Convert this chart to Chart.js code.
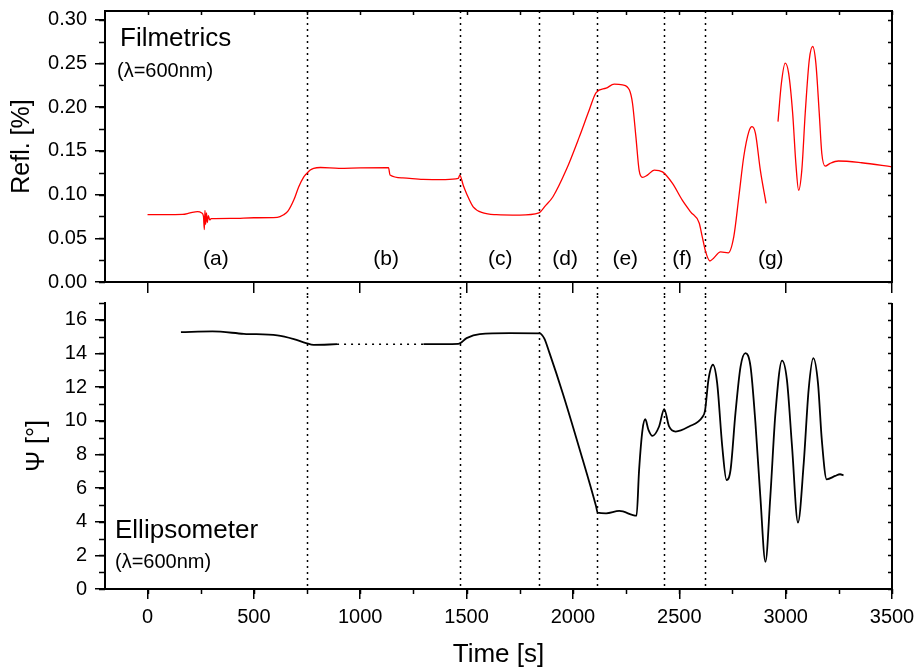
<!DOCTYPE html>
<html>
<head>
<meta charset="utf-8">
<script src="https://cdn.jsdelivr.net/npm/chart.js@4"></script>
<style>
html, body { margin: 0; padding: 0; background: #fff; }
#wrap { position: relative; width: 916px; height: 669px; }
#top { position: absolute; left: 0; top: 0; }
#bottom { position: absolute; left: 0; top: 296px; }
</style>
</head>
<body>
<div id="wrap">
<canvas id="top" width="916" height="296"></canvas>
<canvas id="bottom" width="916" height="373"></canvas>
</div>
<script>
// Filmetrics reflectance (null = gap in the record)
let reflTime = [0, 80, 165, 200, 235, 255, 263, 267, 270, 273, 277, 281, 286, 292, 300, 400, 500, 610, 640, 660,
    688, 711, 734, 746, 765, 781, 813, 900, 1000, 1133, 1140, 1200, 1295, 1400, 1461, 1468, 1485, 1500, 1531, 1578,
    1640, 1750, 1840, 1870, 1906, 1968, 2030, 2077, 2109, 2156, 2194, 2233, 2265, 2280, 2296, 2311, 2327, 2350, 2382, 2421,
    2468, 2514, 2554, 2593, 2608, 2624, 2644, 2660, 2694, 2730, 2756, 2780, 2803, 2827, 2842, 2858, 2881, 2908, 2935,
    2964, 2980, 2998, 3014, 3033, 3048, 3061, 3076, 3092, 3111, 3127, 3142, 3158, 3170, 3186, 3209, 3248, 3357, 3500];
let reflValue = [0.077, 0.077, 0.0773, 0.079, 0.0805, 0.079, 0.075, 0.060, 0.082, 0.066, 0.079, 0.068, 0.076, 0.071, 0.0725, 0.0728, 0.0735, 0.074, 0.077, 0.081,
    0.094, 0.109, 0.120, 0.1235, 0.128, 0.130, 0.131, 0.130, 0.1305, 0.1307, 0.1223, 0.119, 0.1174, 0.1172, 0.1185, 0.1223, 0.110, 0.101, 0.086, 0.079,
    0.077, 0.0765, 0.079, 0.087, 0.0975, 0.128, 0.166, 0.197, 0.2167, 0.2217, 0.2263, 0.2255, 0.2198, 0.2045, 0.166, 0.128, 0.1197, 0.1223, 0.128, 0.126,
    0.1128, 0.0937, 0.080, 0.0677, 0.0516, 0.0344, 0.024, 0.027, 0.0344, 0.0333, 0.0516, 0.0975, 0.1433, 0.172, 0.1777, 0.170, 0.128, 0.0899, null,
    0.1834, 0.2274, 0.2504, 0.239, 0.193, 0.1357, 0.105, 0.128, 0.193, 0.254, 0.2694, 0.2504, 0.193, 0.147, 0.1326, 0.1357, 0.1384, 0.1364, 0.1318];

// Ellipsometer psi
let psiTime = [157, 305, 453, 610, 688, 745, 781, 891, 1100, 1297, 1461, 1500, 1562, 1703, 1843, 1865, 1890, 1952, 2030, 2109,
    2116, 2156, 2218, 2299, 2311, 2327, 2340, 2355, 2374, 2405, 2429, 2452, 2483, 2546, 2608, 2621, 2637, 2658, 2678, 2702,
    2722, 2741, 2764, 2788, 2811, 2835, 2858, 2881, 2905, 2928, 2952, 2983, 3006, 3030, 3058, 3085, 3108, 3130, 3152, 3170,
    3193, 3233, 3256, 3272];
let psiValue = [15.27, 15.31, 15.17, 15.07, 14.85, 14.62, 14.51, 14.55, null, 14.55, 14.57, 14.91, 15.15, 15.21, 15.2, 14.9, 14.02, 11.64, 8.37, 4.9,
    4.54, 4.5, 4.64, 4.36, 7.08, 9.46, 10.09, 9.46, 9.1, 9.66, 10.69, 9.66, 9.36, 9.66, 10.21, 10.6, 12.43, 13.33, 12.24, 8.47,
    6.48, 7.08, 10.45, 13.22, 14.02, 13.22, 9.86, 5.49, 1.62, 5.49, 10.45, 13.58, 12.43, 8.47, 3.95, 7.48, 11.84, 13.72, 12.24, 8.86,
    6.52, 6.72, 6.82, 6.76];

// dotted bridge over the missing ellipsometer data
let gapTime = [891, 1297];
let gapValue = [14.55, 14.55];

// stage boundaries and labels
let stages = [750, 1468, 1840, 2113, 2430, 2620];
let stageLabels = ["(a)", "(b)", "(c)", "(d)", "(e)", "(f)", "(g)"];
let stageLabelTime = [321, 1122, 1658, 1963, 2246, 2513, 2930];

let xTicks = [0, 500, 1000, 1500, 2000, 2500, 3000, 3500];

function toPoints(xs, ys) {
    return xs.map((x, i) => ({ x: x, y: ys[i] }));
}

Chart.defaults.font.family = '"Liberation Sans", Arial, sans-serif';
Chart.defaults.color = "#000";

let fontName = '"Liberation Sans", Arial, sans-serif';

// keep the plot areas exactly where the reference has them
function noPad(s) {
    s.paddingLeft = 0;
    s.paddingRight = 0;
    s.paddingTop = 0;
    s.paddingBottom = 0;
}

let decor = {
    id: "decor",
    beforeDatasetsDraw(chart, args, o) {
        let ctx = chart.ctx, a = chart.chartArea, xs = chart.scales.x;
        ctx.save();
        ctx.strokeStyle = "#000";
        ctx.lineWidth = 1.5;
        ctx.setLineDash([2, 4]);
        let y0 = o.upper ? a.top : 0;
        let y1 = o.upper ? chart.height : a.bottom;
        stages.forEach(t => {
            let px = Math.round(xs.getPixelForValue(t)) + 0.5;
            ctx.beginPath();
            ctx.moveTo(px, y0);
            ctx.lineTo(px, y1);
            ctx.stroke();
        });
        ctx.restore();
    },
    afterDraw(chart, args, o) {
        let ctx = chart.ctx, a = chart.chartArea, xs = chart.scales.x, ys = chart.scales.y;
        ctx.save();
        ctx.strokeStyle = "#000";
        ctx.lineWidth = 1.5;
        // minor ticks on y (outside left, inside right)
        for (let k = 0; k * o.yMinor <= ys.max + 1e-9; k++) {
            let py = Math.round(ys.getPixelForValue(k * o.yMinor)) + 0.5;
            ctx.beginPath();
            ctx.moveTo(a.left - 6, py);
            ctx.lineTo(a.left, py);
            ctx.moveTo(a.right, py);
            ctx.lineTo(a.right - 4, py);
            ctx.stroke();
        }
        // x ticks every 250
        for (let t = 0; t <= xs.max; t += 250) {
            let px = Math.round(xs.getPixelForValue(t)) + 0.5;
            ctx.beginPath();
            if (o.upper) {
                ctx.moveTo(px, a.top);
                ctx.lineTo(px, a.top + 4);
            } else {
                ctx.moveTo(px, a.bottom);
                ctx.lineTo(px, a.bottom + 5);
            }
            ctx.stroke();
        }
        // frame lines
        ctx.lineWidth = 2;
        ctx.beginPath();
        if (o.upper) {
            ctx.moveTo(a.left, a.top);
            ctx.lineTo(a.right + 1, a.top);
        }
        ctx.moveTo(a.right, a.top);
        ctx.lineTo(a.right, a.bottom + 1);
        ctx.stroke();

        // texts
        ctx.fillStyle = "#000";
        ctx.textBaseline = "middle";
        ctx.textAlign = "left";
        o.texts.forEach(t => {
            ctx.font = t.size + "px " + fontName;
            ctx.fillText(t.text, t.x, t.y);
        });
        if (o.upper) {
            ctx.font = "21px " + fontName;
            ctx.textAlign = "center";
            stageLabels.forEach((s, i) => {
                ctx.fillText(s, xs.getPixelForValue(stageLabelTime[i]), ys.getPixelForValue(0.026));
            });
        }
        ctx.restore();
    }
};

function xScale(showLabels, height) {
    return {
        type: "linear",
        min: -200,
        max: 3500,
        afterFit: s => { s.height = height; noPad(s); },
        afterBuildTicks: s => { s.ticks = xTicks.map(v => ({ value: v })); },
        border: { color: "#000", width: 2 },
        grid: { drawOnChartArea: false, color: "#000", lineWidth: 1.5, tickLength: showLabels ? 10 : 11 },
        ticks: { display: showLabels, padding: 6, font: { size: 20 }, color: "#000", callback: v => String(v) },
        title: {
            display: showLabels,
            text: "Time [s]",
            font: { size: 26, lineHeight: 1 },
            padding: { top: 0, bottom: 1 },
            color: "#000"
        }
    };
}

let topChart = new Chart(document.getElementById("top"), {
    type: "line",
    data: {
        datasets: [{
            data: toPoints(reflTime, reflValue),
            borderColor: "#ff0000",
            borderWidth: 1.3,
            pointRadius: 0,
            cubicInterpolationMode: "monotone",
            spanGaps: false
        }]
    },
    options: {
        responsive: false,
        animation: false,
        layout: { padding: { top: 11, right: 24, left: 0, bottom: 0 } },
        plugins: {
            legend: { display: false },
            tooltip: { enabled: false },
            decor: {
                upper: true,
                yMinor: 0.025,
                texts: [
                    { text: "Filmetrics", x: 120, y: 39, size: 26 },
                    { text: "(λ=600nm)", x: 117, y: 71, size: 20 }
                ]
            }
        },
        scales: {
            x: xScale(false, 14),
            y: {
                min: 0,
                max: 0.31,
                afterFit: s => { s.width = 105; noPad(s); },
                border: { color: "#000", width: 2 },
                grid: { drawOnChartArea: false, color: "#000", lineWidth: 1.5, tickLength: 10 },
                ticks: {
                    stepSize: 0.05,
                    includeBounds: false,
                    padding: 8,
                    font: { size: 20 },
                    callback: v => v.toFixed(2)
                },
                title: {
                    display: true,
                    text: "Refl. [%]",
                    font: { size: 25, lineHeight: 1.2 },
                    padding: { top: 7, bottom: 0 }
                }
            }
        }
    },
    plugins: [decor]
});

let bottomChart = new Chart(document.getElementById("bottom"), {
    type: "line",
    data: {
        datasets: [{
            data: toPoints(psiTime, psiValue),
            borderColor: "#000",
            borderWidth: 1.8,
            pointRadius: 0,
            cubicInterpolationMode: "monotone",
            spanGaps: false
        }, {
            data: toPoints(gapTime, gapValue),
            borderColor: "#000",
            borderWidth: 1.5,
            borderDash: [2, 5],
            pointRadius: 0
        }]
    },
    options: {
        responsive: false,
        animation: false,
        layout: { padding: { top: 7, right: 24, left: 0, bottom: 0 } },
        plugins: {
            legend: { display: false },
            tooltip: { enabled: false },
            decor: {
                upper: false,
                yMinor: 1,
                texts: [
                    { text: "Ellipsometer", x: 115, y: 235, size: 26 },
                    { text: "(λ=600nm)", x: 115, y: 266, size: 20 }
                ]
            }
        },
        scales: {
            x: xScale(true, 80),
            y: {
                min: 0,
                max: 17,
                afterFit: s => { s.width = 105; noPad(s); },
                border: { color: "#000", width: 2 },
                grid: { drawOnChartArea: false, color: "#000", lineWidth: 1.5, tickLength: 10 },
                ticks: {
                    stepSize: 2,
                    includeBounds: false,
                    padding: 8,
                    font: { size: 20 }
                },
                title: {
                    display: true,
                    text: "Ψ [°]",
                    font: { size: 25, lineHeight: 1.2 },
                    padding: { top: 22, bottom: 0 }
                }
            }
        }
    },
    plugins: [decor]
});
</script>
</body>
</html>
